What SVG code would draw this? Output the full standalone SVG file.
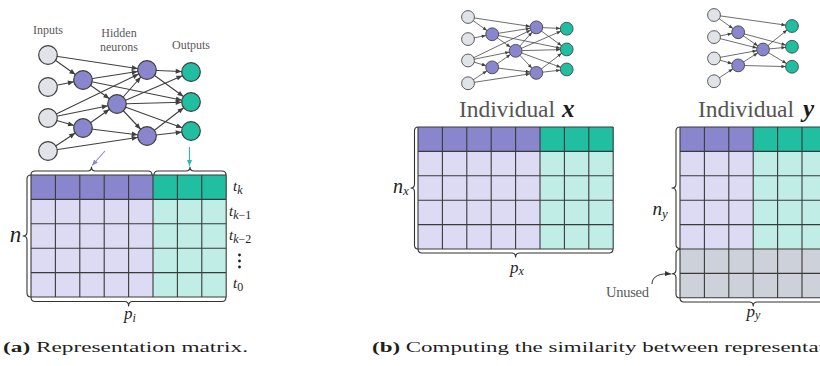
<svg xmlns="http://www.w3.org/2000/svg" width="820" height="366" viewBox="0 0 820 366">
  <defs>
    <style>
      .edge { fill: none; stroke: #404040; stroke-width: 1.1; marker-end: url(#headNode); }
      .inp { fill: #E0E3E8; stroke: #3d3d3d; stroke-width: 1.2; }
      .hid { fill: #8986CD; stroke: #3d3d3d; stroke-width: 1.2; }
      .out { fill: #21BFA2; stroke: #3d3d3d; stroke-width: 1.2; }
      .grid { fill: none; stroke: #3a3a3a; stroke-width: 1.1; }
      .brace { fill: none; stroke: #333; stroke-width: 1.1; stroke-linejoin: round; }
      .lbl { font-family: "Liberation Serif", "Times New Roman", serif; fill: #5a5a5a; }
      .math { font-family: "Liberation Serif", "Times New Roman", serif; font-style: italic; fill: #1e1e1e; }
      .title { font-family: "Liberation Serif", "Times New Roman", serif; font-size: 23.5px; fill: #555; }
      .cap { font-family: "Liberation Serif", "Times New Roman", serif; font-size: 14.5px; fill: #1e1e1e; }
      .dkP { fill: #8986CD; } .dkT { fill: #21BFA2; }
      .ltP { fill: #DCDBF3; } .ltT { fill: #C0EEE6; } .gry { fill: #CDD1D9; }
    </style>
    <!-- arrowhead pulled back by the node radius so its tip sits on the circle -->
    <marker id="headNode" viewBox="0 0 6 5" markerWidth="6" markerHeight="5" refX="15.3" refY="2.5" orient="auto" markerUnits="userSpaceOnUse" overflow="visible">
      <path d="M0,0 L6,2.5 L0,5 Z" fill="#404040"/>
    </marker>
    <marker id="headPurple" viewBox="0 0 6 5" markerWidth="6" markerHeight="5" refX="6" refY="2.5" orient="auto" markerUnits="userSpaceOnUse">
      <path d="M0,0 L6,2.5 L0,5 Z" fill="#8986CD"/>
    </marker>
    <marker id="headTeal" viewBox="0 0 6 5" markerWidth="6" markerHeight="5" refX="6" refY="2.5" orient="auto" markerUnits="userSpaceOnUse">
      <path d="M0,0 L6,2.5 L0,5 Z" fill="#21BFA2"/>
    </marker>
    <marker id="headDark" viewBox="0 0 6 5" markerWidth="6" markerHeight="5" refX="6" refY="2.5" orient="auto" markerUnits="userSpaceOnUse">
      <path d="M0,0 L6,2.5 L0,5 Z" fill="#333"/>
    </marker>
  </defs>

  <!-- ===== (a) network ===== -->
  <g id="net-a">
    <text class="lbl" font-size="12" x="48" y="34.3" text-anchor="middle">Inputs</text>
    <text class="lbl" font-size="12" x="119" y="36.7" text-anchor="middle">Hidden</text>
    <text class="lbl" font-size="12" x="119" y="50.5" text-anchor="middle">neurons</text>
    <text class="lbl" font-size="12" x="191" y="48.5" text-anchor="middle">Outputs</text>
    <g id="net-a-connectors">
      <path class="edge" d="M48,55L83,80"/>
      <path class="edge" d="M48,55L147,70"/>
      <path class="edge" d="M48,87L83,80"/>
      <path class="edge" d="M48,118L147,70"/>
      <path class="edge" d="M48,118L117,104"/>
      <path class="edge" d="M48,118L83,128"/>
      <path class="edge" d="M48,151L83,128"/>
      <path class="edge" d="M48,151L147,136"/>
      <path class="edge" d="M83,80L147,70"/>
      <path class="edge" d="M83,80L117,104"/>
      <path class="edge" d="M83,80L191,102"/>
      <path class="edge" d="M83,128L117,104"/>
      <path class="edge" d="M83,128L147,136"/>
      <path class="edge" d="M117,104L147,70"/>
      <path class="edge" d="M117,104L191,72"/>
      <path class="edge" d="M117,104L191,102"/>
      <path class="edge" d="M117,104L147,136"/>
      <path class="edge" d="M117,104L191,131"/>
      <path class="edge" d="M147,70L191,72"/>
      <path class="edge" d="M147,70L191,102"/>
      <path class="edge" d="M147,136L191,102"/>
      <path class="edge" d="M147,136L191,131"/>
    </g>
    <g id="a-in1"><circle class="inp" cx="48" cy="55" r="9.3"/></g>
    <g id="a-in2"><circle class="inp" cx="48" cy="87" r="9.3"/></g>
    <g id="a-in3"><circle class="inp" cx="48" cy="118" r="9.3"/></g>
    <g id="a-in4"><circle class="inp" cx="48" cy="151" r="9.3"/></g>
    <g id="a-h1a"><circle class="hid" cx="83" cy="80" r="9.3"/></g>
    <g id="a-h1b"><circle class="hid" cx="83" cy="128" r="9.3"/></g>
    <g id="a-h2"><circle class="hid" cx="117" cy="104" r="9.3"/></g>
    <g id="a-h3a"><circle class="hid" cx="147" cy="70" r="9.3"/></g>
    <g id="a-h3b"><circle class="hid" cx="147" cy="136" r="9.3"/></g>
    <g id="a-out1"><circle class="out" cx="191" cy="72" r="9.3"/></g>
    <g id="a-out2"><circle class="out" cx="191" cy="102" r="9.3"/></g>
    <g id="a-out3"><circle class="out" cx="191" cy="131" r="9.3"/></g>
  </g>

  <!-- pointers from the layers to the matrix column groups -->
  <g id="a-pointers">
    <path d="M105,151L92,165.5" fill="none" stroke="#8986CD" stroke-width="1.1" marker-end="url(#headPurple)"/>
    <path d="M189.5,147L189.5,166" fill="none" stroke="#21BFA2" stroke-width="1.1" marker-end="url(#headTeal)"/>
  </g>

  <!-- ===== (a) representation matrix ===== -->
  <g id="matrix-a">
    <rect class="dkP" x="31" y="175" width="122" height="24.4"/>
    <rect class="dkT" x="153" y="175" width="73.2" height="24.4"/>
    <rect class="ltP" x="31" y="199.4" width="122" height="97.6"/>
    <rect class="ltT" x="153" y="199.4" width="73.2" height="97.6"/>
    <path class="grid" d="M31,175V297M55.4,175V297M79.8,175V297M104.2,175V297M128.6,175V297M153,175V297M177.4,175V297M201.8,175V297M226.2,175V297
      M31,175H226.2M31,199.4H226.2M31,223.8H226.2M31,248.2H226.2M31,272.6H226.2M31,297H226.2"/>
    <path class="brace" stroke="#8986CD" d="M31,175 Q31,171 35,171 L87.5,171 Q91.5,171 91.5,167 Q91.5,171 95.5,171 L148,171 Q152,171 152,175"/>
    <path class="brace" stroke="#21BFA2" d="M154,175 Q154,171 158,171 L186,171 Q190,171 190,167 Q190,171 194,171 L222,171 Q226,171 226,175"/>
    <path class="brace" d="M31,175 Q27,175 27,179 L27,232 Q27,236 23,236 Q27,236 27,240 L27,293 Q27,297 31,297"/>
    <path class="brace" d="M31,297 Q31,301.5 35,301.5 L124.6,301.5 Q128.6,301.5 128.6,306 Q128.6,301.5 132.6,301.5 L222,301.5 Q226,301.5 226,297"/>
    <text class="math" font-size="23" x="15.5" y="242" text-anchor="middle">n</text>
    <text class="math" font-size="17" x="124" y="319">p<tspan font-size="12" dy="3">i</tspan></text>
    <text class="math" font-size="15" x="233" y="191">t<tspan font-size="12" dy="3">k</tspan></text>
    <text class="math" font-size="15" x="229" y="215.5">t<tspan font-size="12" dy="3">k</tspan><tspan font-size="12" font-style="normal">−1</tspan></text>
    <text class="math" font-size="15" x="229" y="240">t<tspan font-size="12" dy="3">k</tspan><tspan font-size="12" font-style="normal">−2</tspan></text>
    <circle cx="239.5" cy="255" r="1.4" fill="#1e1e1e"/>
    <circle cx="239.5" cy="261" r="1.4" fill="#1e1e1e"/>
    <circle cx="239.5" cy="267" r="1.4" fill="#1e1e1e"/>
    <text class="math" font-size="15" x="233" y="288">t<tspan font-size="12" font-style="normal" dy="3">0</tspan></text>
  </g>

  <!-- ===== (b) individual x network ===== -->
  <g id="net-x" transform="translate(434.9,-20.95) scale(0.69)">
    <g id="net-x-connectors">
      <path class="edge" d="M48,55L83,80"/>
      <path class="edge" d="M48,55L147,70"/>
      <path class="edge" d="M48,87L83,80"/>
      <path class="edge" d="M48,118L147,70"/>
      <path class="edge" d="M48,118L117,104"/>
      <path class="edge" d="M48,118L83,128"/>
      <path class="edge" d="M48,151L83,128"/>
      <path class="edge" d="M48,151L147,136"/>
      <path class="edge" d="M83,80L147,70"/>
      <path class="edge" d="M83,80L117,104"/>
      <path class="edge" d="M83,80L191,102"/>
      <path class="edge" d="M83,128L117,104"/>
      <path class="edge" d="M83,128L147,136"/>
      <path class="edge" d="M117,104L147,70"/>
      <path class="edge" d="M117,104L191,72"/>
      <path class="edge" d="M117,104L191,102"/>
      <path class="edge" d="M117,104L147,136"/>
      <path class="edge" d="M117,104L191,131"/>
      <path class="edge" d="M147,70L191,72"/>
      <path class="edge" d="M147,70L191,102"/>
      <path class="edge" d="M147,136L191,102"/>
      <path class="edge" d="M147,136L191,131"/>
    </g>
    <g id="x-in1"><circle class="inp" cx="48" cy="55" r="9.3"/></g>
    <g id="x-in2"><circle class="inp" cx="48" cy="87" r="9.3"/></g>
    <g id="x-in3"><circle class="inp" cx="48" cy="118" r="9.3"/></g>
    <g id="x-in4"><circle class="inp" cx="48" cy="151" r="9.3"/></g>
    <g id="x-h1a"><circle class="hid" cx="83" cy="80" r="9.3"/></g>
    <g id="x-h1b"><circle class="hid" cx="83" cy="128" r="9.3"/></g>
    <g id="x-h2"><circle class="hid" cx="117" cy="104" r="9.3"/></g>
    <g id="x-h3a"><circle class="hid" cx="147" cy="70" r="9.3"/></g>
    <g id="x-h3b"><circle class="hid" cx="147" cy="136" r="9.3"/></g>
    <g id="x-out1"><circle class="out" cx="191" cy="72" r="9.3"/></g>
    <g id="x-out2"><circle class="out" cx="191" cy="102" r="9.3"/></g>
    <g id="x-out3"><circle class="out" cx="191" cy="131" r="9.3"/></g>
  </g>
  <text class="title" x="459" y="117" textLength="96">Individual</text>
  <text x="562" y="117" font-family="Liberation Serif, serif" font-size="25" font-style="italic" font-weight="bold" fill="#1a1a1a">x</text>

  <!-- ===== (b) individual y network ===== -->
  <g id="net-y" transform="translate(680.9,-22.95) scale(0.69)">
    <g id="net-y-connectors">
      <path class="edge" d="M48,55L83,80"/>
      <path class="edge" d="M48,55L161,71"/>
      <path class="edge" d="M48,87L83,80"/>
      <path class="edge" d="M48,87L119,105"/>
      <path class="edge" d="M48,118L119,105"/>
      <path class="edge" d="M48,118L83,128"/>
      <path class="edge" d="M48,151L83,128"/>
      <path class="edge" d="M83,80L119,105"/>
      <path class="edge" d="M83,80L161,101"/>
      <path class="edge" d="M83,128L119,105"/>
      <path class="edge" d="M83,128L161,130"/>
      <path class="edge" d="M119,105L161,71"/>
      <path class="edge" d="M119,105L161,101"/>
      <path class="edge" d="M119,105L161,130"/>
    </g>
    <g id="y-in1"><circle class="inp" cx="48" cy="55" r="9.3"/></g>
    <g id="y-in2"><circle class="inp" cx="48" cy="87" r="9.3"/></g>
    <g id="y-in3"><circle class="inp" cx="48" cy="118" r="9.3"/></g>
    <g id="y-in4"><circle class="inp" cx="48" cy="151" r="9.3"/></g>
    <g id="y-h1a"><circle class="hid" cx="83" cy="80" r="9.3"/></g>
    <g id="y-h1b"><circle class="hid" cx="83" cy="128" r="9.3"/></g>
    <g id="y-h2"><circle class="hid" cx="119" cy="105" r="9.3"/></g>
    <g id="y-out1"><circle class="out" cx="161" cy="71" r="9.3"/></g>
    <g id="y-out2"><circle class="out" cx="161" cy="101" r="9.3"/></g>
    <g id="y-out3"><circle class="out" cx="161" cy="130" r="9.3"/></g>
  </g>
  <text class="title" x="698" y="117" textLength="96">Individual</text>
  <text x="803" y="117" font-family="Liberation Serif, serif" font-size="25" font-style="italic" font-weight="bold" fill="#1a1a1a">y</text>

  <!-- ===== matrix of x ===== -->
  <g id="matrix-x">
    <rect class="dkP" x="418" y="127" width="122" height="24.4"/>
    <rect class="dkT" x="540" y="127" width="73.2" height="24.4"/>
    <rect class="ltP" x="418" y="151.4" width="122" height="97.6"/>
    <rect class="ltT" x="540" y="151.4" width="73.2" height="97.6"/>
    <path class="grid" d="M418,127V249M442.4,127V249M466.8,127V249M491.2,127V249M515.6,127V249M540,127V249M564.4,127V249M588.8,127V249M613.2,127V249
      M418,127H613.2M418,151.4H613.2M418,175.8H613.2M418,200.2H613.2M418,224.6H613.2M418,249H613.2"/>
    <path class="brace" d="M418,127 Q414.5,127 414.5,131 L414.5,184 Q414.5,188 411,188 Q414.5,188 414.5,192 L414.5,245 Q414.5,249 418,249"/>
    <path class="brace" d="M418,249 Q418,253 422,253 L511.6,253 Q515.6,253 515.6,257 Q515.6,253 519.6,253 L609,253 Q613,253 613,249"/>
    <text class="math" font-size="20" x="393" y="193">n<tspan font-size="13" dy="2">x</tspan></text>
    <text class="math" font-size="17" x="510" y="272.5">p<tspan font-size="12" dy="2.5">x</tspan></text>
  </g>

  <!-- ===== matrix of y (last rows unused) ===== -->
  <g id="matrix-y">
    <rect class="dkP" x="680" y="127" width="73.2" height="24.4"/>
    <rect class="dkT" x="753.2" y="127" width="73.2" height="24.4"/>
    <rect class="ltP" x="680" y="151.4" width="73.2" height="97.6"/>
    <rect class="ltT" x="753.2" y="151.4" width="73.2" height="97.6"/>
    <rect class="gry" x="680" y="249" width="146.4" height="48.8"/>
    <path class="grid" d="M680,127V297.8M704.4,127V297.8M728.8,127V297.8M753.2,127V297.8M777.6,127V297.8M802,127V297.8M826.4,127V297.8
      M680,127H826.4M680,151.4H826.4M680,175.8H826.4M680,200.2H826.4M680,224.6H826.4M680,249H826.4M680,273.4H826.4M680,297.8H826.4"/>
    <path class="brace" d="M680,127 Q676,127 676,131 L676,184 Q676,188 672,188 Q676,188 676,192 L676,244.5 Q676,248.5 680,248.5"/>
    <path class="brace" d="M680,249.5 Q676,249.5 676,253.5 L676,269.7 Q676,273.7 672,273.7 Q676,273.7 676,277.7 L676,294 Q676,298 680,298"/>
    <path class="brace" d="M680,298 Q680,302 684,302 L749.2,302 Q753.2,302 753.2,306 Q753.2,302 757.2,302 L822,302 Q826,302 826,298"/>
    <text class="math" font-size="19" x="652.5" y="215">n<tspan font-size="13" dy="3">y</tspan></text>
    <text class="math" font-size="17" x="746.5" y="316.5">p<tspan font-size="12" dy="2.5">y</tspan></text>
    <text class="lbl" font-size="14.5" x="606" y="297" textLength="43" fill="#666">Unused</text>
    <path d="M652,284 C652,276 660,273 671,274" fill="none" stroke="#333" stroke-width="1" marker-end="url(#headDark)"/>
  </g>

  <!-- captions -->
  <text class="cap" x="3" y="352" textLength="245" lengthAdjust="spacingAndGlyphs"><tspan font-weight="bold">(a)</tspan> Representation matrix.</text>
  <text class="cap" x="372" y="352" textLength="497" lengthAdjust="spacingAndGlyphs"><tspan font-weight="bold">(b)</tspan> Computing the similarity between representations.</text>
</svg>
